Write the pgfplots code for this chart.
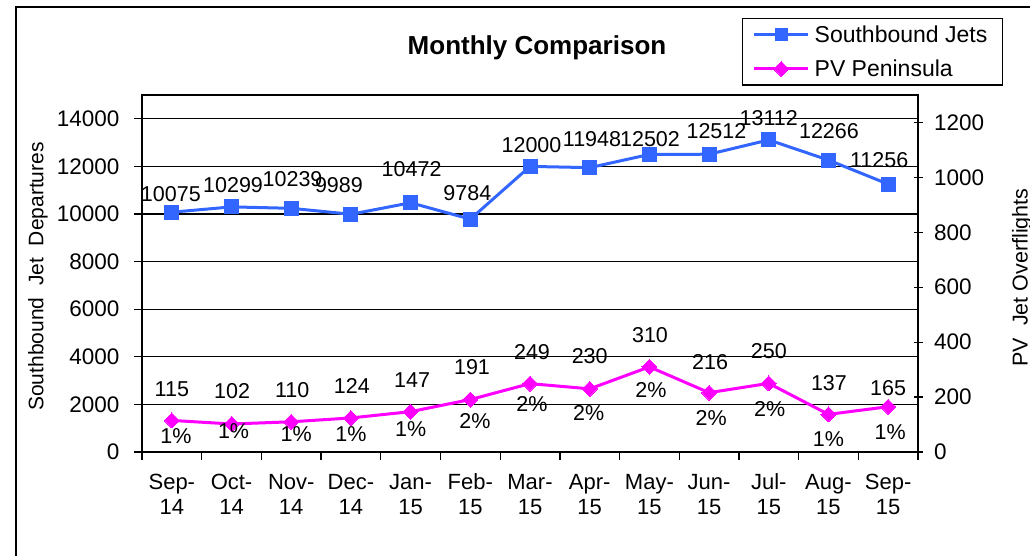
\documentclass[border=0pt]{standalone}
\usepackage{pgfplots}
\pgfplotsset{compat=1.18}
\usepackage{pgfplotstable}
\usepackage{fontspec}
\setmainfont{Liberation Sans}
\definecolor{sbblue}{RGB}{51,102,255}
\definecolor{pvmag}{RGB}{255,0,255}
\newcommand{\tl}[2]{\strut#1\\\strut#2}

\pgfplotstableread{
x sb sbdx sbdy pv pvdx pvdy pct pcdx pcdy
0 10075 -1 18 115 0 31 1\% 4 -16
1 10299 1.5 22 102 0.5 32.5 1\% 2 -7
2 10239 1.3 29 110 1 32 1\% 5 -12
3 9989 -12 29 124 1 32 1\% 0 -16
4 10472 1 34 147 1.5 31.6 1\% 0 -17.5
5 9784 -3 26 191 1.7 32 2\% 4.7 -22
6 12000 1.5 21 249 2 32 2\% 2 -20
7 11948 2.3 29 230 0 32.3 2\% -1 -24.5
8 12502 0.6 15 310 0.6 32 2\% 1.5 -23
9 12512 7.4 23 216 1 31 2\% 2 -25
10 13112 0 22 250 0 32 2\% 1 -25.5
11 12266 0.5 28.5 137 0.5 31 1\% 0 -24.5
12 11256 -9 24 165 0 19 1\% 2 -25
}\data

\begin{document}
\begin{tikzpicture}[x=1pt,y=1pt]
\useasboundingbox (0,0) rectangle (1030,555);
\draw[line width=2pt] (16,-20) rectangle (1050,548);
\node[font=\bfseries\fontsize{26}{30}\selectfont] at (537,507) {Monthly Comparison};
\node[rotate=90, font=\fontsize{21}{25}\selectfont] at (38,278.5) {Southbound\ \ Jet\ \ Departures};
\node[rotate=90, font=\fontsize{21.5}{25}\selectfont] at (1022,277.5) {PV\ \ Jet Overflights};

\begin{axis}[
  at={(142pt,103pt)}, anchor=south west, scale only axis,
  width=776pt, height=357pt,
  xmin=-0.5, xmax=12.5, ymin=0, ymax=15000,
  xtick={-0.5,0.5,...,12.5}, xticklabels={,,,,,,,,,,,,,},
  extra x ticks={0,1,2,3,4,5,6,7,8,9,10,11,12},
  extra x tick labels={\tl{Sep-}{14},\tl{Oct-}{14},\tl{Nov-}{14},\tl{Dec-}{14},\tl{Jan-}{15},\tl{Feb-}{15},\tl{Mar-}{15},\tl{Apr-}{15},\tl{May-}{15},\tl{Jun-}{15},\tl{Jul-}{15},\tl{Aug-}{15},\tl{Sep-}{15}},
  extra x tick style={tick style={draw=none}},
  ytick={0,2000,...,14000},
  scaled y ticks=false,
  ymajorgrids, grid style={black, line width=1.3pt},
  tick align=outside, major tick length=8pt,
  tick style={black, line width=1.3pt},
  xtick pos=left, ytick pos=left,
  axis line style={black, line width=2pt},
  /pgf/number format/assume math mode=true,
  /pgf/number format/1000 sep={},
  tick label style={font=\fontsize{22.5}{25}\selectfont},
  yticklabel style={xshift=-11pt},
  xticklabel style={align=center, anchor=north, font=\fontsize{22}{25}\selectfont, yshift=-8pt},
  clip=false,
]
\addplot[sbblue, line width=3pt, mark=square*, mark size=7pt,
  mark options={fill=sbblue, draw=sbblue, line width=0pt},
  nodes near coords, point meta=explicit,
  nodes near coords={\pgfmathprintnumber[assume math mode=true,1000 sep={}]{\pgfplotspointmeta}},
  visualization depends on={\thisrow{sbdx} \as \ldx},
  visualization depends on={\thisrow{sbdy} \as \ldy},
  every node near coord/.append style={anchor=center, inner sep=0pt, black,
     font=\fontsize{21.5}{25}\selectfont, xshift=\ldx pt, yshift=\ldy pt}]
  table[x=x, y=sb, meta=sb] {\data};
\end{axis}

\begin{axis}[
  at={(142pt,103pt)}, anchor=south west, scale only axis,
  width=776pt, height=357pt,
  xmin=-0.5, xmax=12.5, ymin=0, ymax=1300,
  axis x line=none, axis y line*=right,
  ytick={0,200,...,1200},
  tick align=center, major tick length=9pt,
  tick style={black, line width=1.3pt},
  axis line style={black, line width=2pt, -},
  /pgf/number format/assume math mode=true,
  /pgf/number format/1000 sep={},
  tick label style={font=\fontsize{22.5}{25}\selectfont},
  yticklabel style={xshift=8pt},
  clip=false,
  legend style={at={(axis description cs:0.7732,1.2157)}, anchor=north west,
     draw=black, line width=1.3pt, font=\fontsize{23}{26}\selectfont,
     inner xsep=10pt, inner ysep=5pt, row sep=12pt,
     nodes={inner xsep=5pt}},
  legend cell align=left,
  legend image code/.code={\draw[mark repeat=2,mark phase=2] plot coordinates {(0pt,0pt)(27pt,0pt)(54pt,0pt)};},
]
\addlegendimage{sbblue, line width=3pt, mark=square*, mark size=6pt, mark options={fill=sbblue, draw=sbblue, line width=0pt}}
\addlegendentry{Southbound Jets}
\addplot[pvmag, line width=3pt, mark=diamond*, mark size=7.5pt,
  mark options={fill=pvmag, draw=pvmag, line width=0pt, xscale=1.33},
  nodes near coords, point meta=explicit,
  nodes near coords={\pgfmathprintnumber[assume math mode=true,1000 sep={}]{\pgfplotspointmeta}},
  visualization depends on={\thisrow{pvdx} \as \ldx},
  visualization depends on={\thisrow{pvdy} \as \ldy},
  every node near coord/.append style={anchor=center, inner sep=0pt, black,
     font=\fontsize{21.5}{25}\selectfont, xshift=\ldx pt, yshift=\ldy pt}]
  table[x=x, y=pv, meta=pv] {\data};
\addlegendentry{PV Peninsula}
\addplot[forget plot, draw=none, mark=none,
  nodes near coords, point meta=explicit symbolic,
  visualization depends on={\thisrow{pcdx} \as \ldx},
  visualization depends on={\thisrow{pcdy} \as \ldy},
  every node near coord/.append style={anchor=center, inner sep=0pt, black,
     font=\fontsize{21.5}{25}\selectfont, xshift=\ldx pt, yshift=\ldy pt}]
  table[x=x, y=pv, meta=pct] {\data};
\end{axis}
\end{tikzpicture}
\end{document}
